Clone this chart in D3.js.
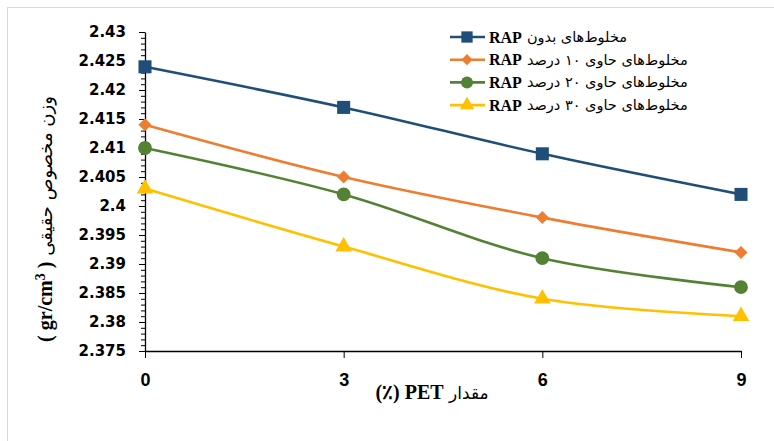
<!DOCTYPE html>
<html>
<head>
<meta charset="utf-8">
<style>
  body { margin: 0; background: #fff; }
  svg { display: block; }
</style>
</head>
<body>
<div class="chart"></div>
<script src="https://d3js.org/d3.v7.min.js"></script>
<script>
// PET content (%)
const petLevels = [0, 3, 6, 9];

// real specific gravity (gr/cm3) per mix
const rap0  = [2.424, 2.417, 2.409, 2.402];
const rap10 = [2.414, 2.405, 2.398, 2.392];
const rap20 = [2.410, 2.402, 2.391, 2.386];
const rap30 = [2.403, 2.393, 2.384, 2.381];

const seriesNames = [
  "مخلوط‌های بدون",
  "مخلوط‌های حاوی ۱۰ درصد",
  "مخلوط‌های حاوی ۲۰ درصد",
  "مخلوط‌های حاوی ۳۰ درصد"
];

const yTicks = [2.375, 2.38, 2.385, 2.39, 2.395, 2.4, 2.405, 2.41, 2.415, 2.42, 2.425, 2.43];

const width = 774, height = 441;

// diamond = square turned 45deg
const series = [
  {name: seriesNames[0], values: rap0,  color: "#1f4e79", symbol: d3.symbolSquare,  size: 170, rot: 0},
  {name: seriesNames[1], values: rap10, color: "#ed7d31", symbol: d3.symbolSquare,  size: 85,  rot: 45},
  {name: seriesNames[2], values: rap20, color: "#548235", symbol: d3.symbolCircle,  size: 150, rot: 0},
  {name: seriesNames[3], values: rap30, color: "#ffc000", symbol: d3.symbolTriangle,size: 120, rot: 0}
];

const svg = d3.select(".chart").append("svg")
  .attr("width", width)
  .attr("height", height);

// chart area border
svg.append("rect")
  .attr("x", 7.5).attr("y", 7.5)
  .attr("width", width + 20).attr("height", height + 20)
  .attr("fill", "none").attr("stroke", "#d9d9d9");

const x = d3.scaleLinear().domain([0, 9]).range([145, 741]);
const y = d3.scaleLinear().domain([2.375, 2.43]).range([351, 32]);

// minor ticks
svg.append("g")
  .attr("transform", "translate(145,0)")
  .call(d3.axisLeft(y).tickValues(d3.range(2.375, 2.4305, 0.001)).tickSize(4).tickFormat(""))
  .call(g => g.select(".domain").remove())
  .selectAll("line").attr("stroke", "#000");

const yAxis = svg.append("g")
  .attr("transform", "translate(145,0)")
  .call(d3.axisLeft(y).tickValues(yTicks).tickSize(6).tickPadding(13).tickSizeOuter(0)
    .tickFormat(d3.format("~")));
yAxis.select(".domain").attr("stroke", "#000").attr("stroke-width", 1.3);
yAxis.selectAll("line").attr("stroke", "#000");
yAxis.selectAll("text")
  .attr("fill", "#000")
  .style("font-family", "'DejaVu Sans', sans-serif")
  .style("font-weight", "bold")
  .style("font-size", "15px");

const xAxis = svg.append("g")
  .attr("transform", "translate(0,351)")
  .call(d3.axisBottom(x).tickValues(petLevels).tickSize(7).tickPadding(15).tickSizeOuter(0));
xAxis.select(".domain").attr("stroke", "#000").attr("stroke-width", 1.3);
xAxis.selectAll("line").attr("stroke", "#000");
xAxis.selectAll("text")
  .attr("fill", "#000")
  .style("font-family", "'Liberation Sans', sans-serif")
  .style("font-weight", "bold")
  .style("font-size", "18px");

// lines
const line = d3.line()
  .x((d, i) => x(petLevels[i]))
  .y(d => y(d))
  .curve(d3.curveCatmullRom.alpha(0.5));

series.forEach(s => {
  svg.append("path")
    .attr("d", line(s.values))
    .attr("fill", "none")
    .attr("stroke", s.color)
    .attr("stroke-width", 2.6);
});
series.forEach(s => {
  svg.append("g").selectAll("path")
    .data(s.values)
    .join("path")
      .attr("transform", (d, i) => `translate(${x(petLevels[i])},${y(d)}) rotate(${s.rot})`)
      .attr("d", d3.symbol().type(s.symbol).size(s.size))
      .attr("fill", s.color);
});

// legend
const legend = svg.append("g");
series.forEach((s, i) => {
  const ly = 37 + i * 22.7;
  const row = legend.append("g").attr("transform", `translate(0,${ly})`);
  row.append("line")
    .attr("x1", 450).attr("x2", 485)
    .attr("stroke", s.color).attr("stroke-width", 2.6);
  row.append("path")
    .attr("transform", `translate(467,0) rotate(${s.rot})`)
    .attr("d", d3.symbol().type(s.symbol).size(s.size * 0.75))
    .attr("fill", s.color);
  const rap = row.append("text")
    .attr("x", 489).attr("y", 5.5)
    .style("font-family", "'Liberation Serif', serif")
    .style("font-weight", "bold")
    .style("font-size", "16px")
    .text("RAP");
  const w = rap.node().getComputedTextLength();
  row.append("text")
    .attr("x", 489 + w + 5).attr("y", 5)
    .style("font-family", "'DejaVu Sans', sans-serif")
    .style("font-size", "14.5px")
    .text(s.name);
});

// y title
const yTitle = svg.append("text")
  .attr("transform", "translate(52,219) rotate(-90)")
  .attr("text-anchor", "middle")
  .style("direction", "rtl");
yTitle.append("tspan")
  .style("font-family", "'DejaVu Sans', sans-serif")
  .style("font-size", "18px")
  .text("وزن مخصوص حقیقی ");
yTitle.append("tspan")
  .style("font-family", "'Liberation Serif', serif")
  .style("font-weight", "bold")
  .style("font-size", "20px")
  .text("( gr/cm");
yTitle.append("tspan")
  .attr("dy", -7)
  .style("font-family", "'Liberation Serif', serif")
  .style("font-weight", "bold")
  .style("font-size", "14px")
  .text("3");
yTitle.append("tspan")
  .attr("dy", 7)
  .style("font-family", "'Liberation Serif', serif")
  .style("font-weight", "bold")
  .style("font-size", "20px")
  .text(" )");

// x title
const xTitle = svg.append("text")
  .attr("x", 432).attr("y", 399)
  .attr("text-anchor", "middle")
  .style("direction", "rtl");
xTitle.append("tspan")
  .style("font-family", "'DejaVu Sans', sans-serif")
  .style("font-size", "17px")
  .text("مقدار ");
xTitle.append("tspan")
  .style("font-family", "'Liberation Serif', serif")
  .style("font-weight", "bold")
  .style("font-size", "20px")
  .text("PET (٪)");
</script>
</body>
</html>
